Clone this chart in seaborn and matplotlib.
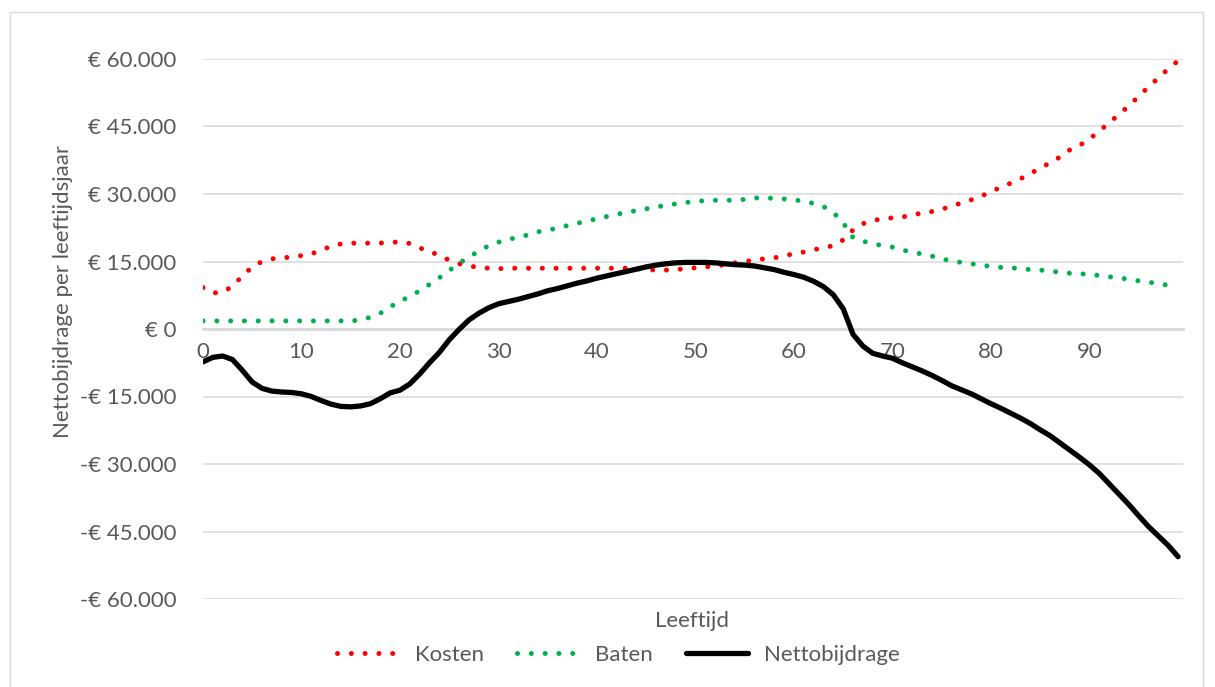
import matplotlib
matplotlib.use("Agg")
import matplotlib.pyplot as plt
import matplotlib.patches as mpatches
from matplotlib.ticker import FuncFormatter, FixedLocator
import numpy as np
import pandas as pd
import seaborn as sns

# ---- data (values in thousands of euro) ----
leeftijd = list(range(100))

kosten = [9.2, 8.0, 8.2, 9.5, 11.8, 13.8, 15.0, 15.6, 15.8, 16.0,
          16.3, 16.7, 17.5, 18.4, 18.9, 19.1, 19.0, 19.1, 19.1, 19.2,
          19.4, 19.0, 18.0, 17.3, 16.3, 15.3, 14.5, 14.0, 13.7, 13.5,
          13.4, 13.5, 13.5, 13.5, 13.5, 13.5, 13.5, 13.5, 13.5, 13.5,
          13.5, 13.5, 13.5, 13.5, 13.4, 13.2, 13.1, 13.1, 13.2, 13.4,
          13.6, 13.8, 14.0, 14.3, 14.7, 15.0, 15.3, 15.6, 15.8, 16.3,
          16.7, 17.1, 17.6, 18.1, 18.5, 19.8, 22.0, 23.4, 24.1, 24.5,
          24.7, 24.9, 25.3, 25.8, 26.1, 26.6, 27.3, 28.0, 28.7, 29.5,
          30.5, 31.5, 32.4, 33.4, 34.5, 35.8, 36.9, 38.2, 39.8, 40.8,
          42.2, 44.0, 45.8, 47.7, 49.6, 51.7, 53.8, 55.8, 57.8, 59.6]

baten = [1.8, 1.8, 1.8, 1.8, 1.8, 1.8, 1.8, 1.8, 1.8, 1.8,
         1.8, 1.8, 1.8, 1.8, 1.8, 1.8, 2.0, 2.6, 3.5, 4.9,
         6.2, 7.2, 8.5, 9.9, 11.4, 13.0, 14.6, 16.0, 17.3, 18.5,
         19.3, 19.9, 20.4, 20.9, 21.6, 22.0, 22.4, 23.0, 23.5, 24.0,
         24.5, 25.0, 25.5, 25.9, 26.3, 26.7, 27.1, 27.5, 27.8, 28.1,
         28.4, 28.5, 28.6, 28.6, 28.6, 28.8, 29.1, 29.2, 29.0, 28.9,
         28.7, 28.4, 27.9, 27.2, 25.9, 23.6, 20.3, 19.5, 19.0, 18.5,
         18.2, 17.6, 17.0, 16.7, 16.2, 15.6, 15.1, 14.8, 14.5, 14.2,
         13.9, 13.7, 13.6, 13.4, 13.2, 13.1, 12.9, 12.6, 12.4, 12.3,
         12.1, 11.9, 11.6, 11.4, 11.0, 10.7, 10.4, 10.1, 9.7, 9.3]

netto = [-7.3, -6.3, -6.0, -6.8, -9.2, -11.8, -13.2, -13.8, -14.0, -14.1,
         -14.4, -15.0, -15.9, -16.7, -17.2, -17.3, -17.1, -16.6, -15.5, -14.2,
         -13.6, -12.2, -10.0, -7.5, -5.2, -2.4, -0.1, 2.0, 3.5, 4.7,
         5.6, 6.1, 6.6, 7.2, 7.8, 8.5, 9.0, 9.6, 10.2, 10.7,
         11.3, 11.8, 12.3, 12.8, 13.3, 13.8, 14.2, 14.5, 14.7, 14.8,
         14.8, 14.8, 14.7, 14.5, 14.3, 14.2, 14.0, 13.6, 13.2, 12.6,
         12.1, 11.5, 10.6, 9.4, 7.6, 4.5, -1.2, -3.8, -5.4, -6.0,
         -6.5, -7.5, -8.4, -9.3, -10.3, -11.4, -12.6, -13.5, -14.4, -15.5,
         -16.6, -17.6, -18.7, -19.8, -21.0, -22.4, -23.7, -25.3, -26.9, -28.5,
         -30.2, -32.1, -34.4, -36.7, -39.0, -41.5, -43.9, -46.0, -48.1, -50.6]

y_ticks = [-60000, -45000, -30000, -15000, 0, 15000, 30000, 45000, 60000]
x_ticks = [0, 10, 20, 30, 40, 50, 60, 70, 80, 90]
series_names = ["Kosten", "Baten", "Nettobijdrage"]

# ---- build data ----
df = pd.DataFrame({
    "Leeftijd": leeftijd * 3,
    "Waarde": [v * 1000 for v in kosten + baten + netto],
    "Reeks": [series_names[0]] * 100 + [series_names[1]] * 100 + [series_names[2]] * 100,
})

sns.set_theme(style="white")
plt.rcParams["font.family"] = ["Lato", "DejaVu Sans"]

text_col = "#595959"
grid_col = "#d9d9d9"
fs = 16

fig = plt.figure(figsize=(12.15, 6.87), dpi=100)
ax = fig.add_axes([203 / 1215, 1 - 599 / 687, (1183 - 203) / 1215, 540 / 687])

palette = {"Kosten": "#ff0000", "Baten": "#00b050", "Nettobijdrage": "#000000"}

for name in series_names:
    sub = df[df["Reeks"] == name]
    if name == "Nettobijdrage":
        sns.lineplot(data=sub, x="Leeftijd", y="Waarde", ax=ax, color=palette[name],
                     linewidth=3.8, label=name, zorder=4,
                     solid_capstyle="round", solid_joinstyle="round")
    else:
        sns.lineplot(data=sub, x="Leeftijd", y="Waarde", ax=ax, color=palette[name],
                     linewidth=3.6, label=name, zorder=3)

for ln in ax.get_lines()[:2]:
    ln.set_dashes((0.01, 2.75))
    ln.set_dash_capstyle("round")

ax.set_xlim(0, 99.5)
ax.set_ylim(-60000, 60000)

# grid
ax.yaxis.set_major_locator(FixedLocator(y_ticks))
ax.grid(axis="y", color=grid_col, linewidth=1.1, zorder=0)
ax.grid(axis="x", visible=False)
ax.set_axisbelow(True)

for s in ["top", "right", "left"]:
    ax.spines[s].set_visible(False)
ax.spines["bottom"].set_position(("data", 0))
ax.spines["bottom"].set_color(grid_col)
ax.spines["bottom"].set_linewidth(2.0)
ax.spines["bottom"].set_zorder(1)

def euro(v, pos):
    v = int(round(v))
    if v == 0:
        return "€ 0"
    s = f"{abs(v):,}".replace(",", ".")
    return ("-€ " if v < 0 else "€ ") + s

ax.yaxis.set_major_formatter(FuncFormatter(euro))
ax.xaxis.set_major_locator(FixedLocator(x_ticks))
ax.set_xticklabels([str(t) for t in x_ticks])
ax.tick_params(axis="y", length=0, pad=19, labelsize=fs, labelcolor=text_col)
ax.tick_params(axis="x", length=0, pad=9, labelsize=fs, labelcolor=text_col)
for lbl in ax.get_xticklabels():
    lbl.set_zorder(2)

ax.set_xlabel("")
ax.set_ylabel("")
fig.text(63 / 1215, 1 - 291 / 687, "Nettobijdrage per leeftijdsjaar", rotation=90,
         ha="center", va="center", fontsize=fs, color=text_col)
fig.text(692 / 1215, 1 - 621 / 687, "Leeftijd", ha="center", va="center",
         fontsize=fs, color=text_col)

# legend
handles, labels = ax.get_legend_handles_labels()
ax.legend_.remove()
leg = fig.legend(handles, labels, loc="center", bbox_to_anchor=(618 / 1215, 1 - 655 / 687),
                 ncol=3, frameon=False, fontsize=fs, handlelength=2.8,
                 handletextpad=0.7, columnspacing=1.5, labelcolor=text_col)

# outer border
fig.patches.append(mpatches.Rectangle((10 / 1215, -0.02), (1203 - 10) / 1215, 1 - 12 / 687 + 0.02,
                                      transform=fig.transFigure, fill=False,
                                      edgecolor=grid_col, linewidth=1.0))

fig.savefig("out.png", dpi=100, facecolor="white")
